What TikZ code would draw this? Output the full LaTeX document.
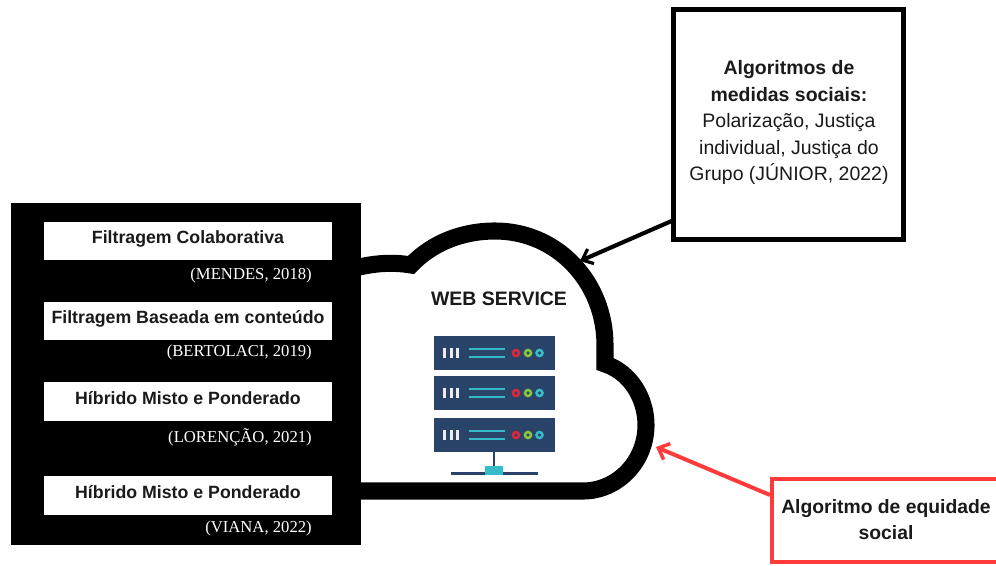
\documentclass[tikz,border=0pt]{standalone}
\usepackage{fontspec}
\setmainfont{Liberation Sans}
\newfontfamily\citefont{Liberation Serif}
\usetikzlibrary{arrows.meta}
\definecolor{rackblue}{HTML}{2A4369}
\definecolor{rackteal}{HTML}{35BCC8}
\definecolor{rackred}{HTML}{D9283A}
\definecolor{rackgreen}{HTML}{8CC63F}
\definecolor{alertred}{HTML}{FF3B3B}
\definecolor{inktext}{HTML}{1A1A1A}
\tikzset{
  x=0.75pt,y=-0.75pt,
  method/.style={fill=white,draw=none,minimum width=216pt,minimum height=29pt,inner sep=0pt,outer sep=0pt},
  methodtext/.style={inner sep=0pt,anchor=base,font=\fontsize{13.3}{15}\selectfont\bfseries,text=inktext},
  cite/.style={text=white,anchor=base east,inner sep=0pt,font=\fontsize{12.5}{14}\selectfont\citefont},
  callout/.style={align=center,inner sep=0pt,text=inktext,font=\fontsize{14.6}{19.9}\selectfont},
  rack/.style={fill=rackblue,draw=none},
  led/.style={line width=1.9pt,fill=rackblue},
}
\newcommand{\serverrack}[1]{%
  \fill[rack] (433.5,#1) rectangle (554.5,#1+33.5);
  \fill[white!90!rackblue] (443,#1+11.5) rectangle (446,#1+22);
  \fill[white!90!rackblue] (449.5,#1+11.5) rectangle (452.5,#1+22);
  \fill[white!90!rackblue] (456,#1+11.5) rectangle (459,#1+22);
  \draw[rackteal,line width=1.5pt] (469,#1+13) -- (505,#1+13);
  \draw[rackteal,line width=1.5pt] (469,#1+20.7) -- (505,#1+20.7);
  \draw[led,draw=rackred] (516,#1+17) circle[radius=3];
  \draw[led,draw=rackgreen] (528,#1+17) circle[radius=3];
  \draw[led,draw=rackteal] (539.5,#1+17) circle[radius=3];
}
\begin{document}
\begin{tikzpicture}
\useasboundingbox (0,0) rectangle (996,565);
\fill[white] (0,0) rectangle (996,565);
% cloud
\draw[black,line width=12.8pt,line join=miter]
  (355,268) .. controls (375,263) and (393,262) .. (411,265)
  .. controls (432,243) and (462,231) .. (495,231)
  .. controls (558,231) and (605,283) .. (605,345)
  .. controls (605,352) and (605,358) .. (605,364)
  .. controls (630,372) and (646,398) .. (646,425)
  .. controls (646,462) and (617,491) .. (583,491) -- (355,491);
% left panel
\fill[black] (11,203) rectangle (361,545);
\node[method] (m1) at (188,241) {};
\node[method] (m2) at (188,321) {};
\node[method] (m3) at (188,401.5) {};
\node[method] (m4) at (188,495.5) {};
\node[methodtext] (t1) at (188,243) {Filtragem Colaborativa};
\node[methodtext] (t2) at (188,323) {Filtragem Baseada em conteúdo};
\node[methodtext] (t3) at (188,404) {Híbrido Misto e Ponderado};
\node[methodtext] (t4) at (188,498) {Híbrido Misto e Ponderado};
\node[cite] (c1) at (312,279.5) {(MENDES, 2018)};
\node[cite] (c2) at (312,356) {(BERTOLACI, 2019)};
\node[cite] (c3) at (312,442) {(LORENÇÃO, 2021)};
\node[cite] (c4) at (312,532) {(VIANA, 2022)};
% web service
\node[font=\fontsize{14.6}{17}\selectfont\bfseries,text=inktext,inner sep=0pt] (ws) at (499,299) {WEB SERVICE};
\serverrack{336}
\serverrack{376}
\serverrack{418}
\draw[rackblue,line width=1.9pt] (494,451) -- (494,473);
\draw[rackblue,line width=1.9pt] (451,473.5) -- (538,473.5);
\fill[rackteal] (485,466) rectangle (503,475);
% black callout
\node[draw=black,line width=3.8pt,minimum width=172pt,minimum height=172pt,inner sep=0pt,outer sep=0pt] (alg) at (788.5,124.5) {};
\node[callout] (algt) at (789,122.5) {\textbf{Algoritmos de}\\\textbf{medidas sociais:}\\Polarização, Justiça\\individual, Justiça do\\Grupo (JÚNIOR, 2022)};
\coordinate (cloudtop) at (580,261);
\coordinate (algstart) at (alg.west |- 0,220);
\draw[black,line width=3.1pt,-{Straight Barb[length=7pt,width=12pt,line width=2.4pt]}] (algstart) -- (cloudtop);
% red callout
\draw[alertred,line width=3.4pt] (996,479) -- (772,479) -- (772,562) -- (996,562);
\node[callout,font=\fontsize{14.5}{20}\selectfont\bfseries] (eq) at (886,519.5) {Algoritmo de equidade\\social};
\coordinate (eqstart) at (770,495);
\coordinate (cloudright) at (656,447);
\draw[alertred,line width=3pt,-{Straight Barb[length=7pt,width=13pt,line width=2.6pt]}] (eqstart) -- (cloudright);
\end{tikzpicture}
\end{document}
